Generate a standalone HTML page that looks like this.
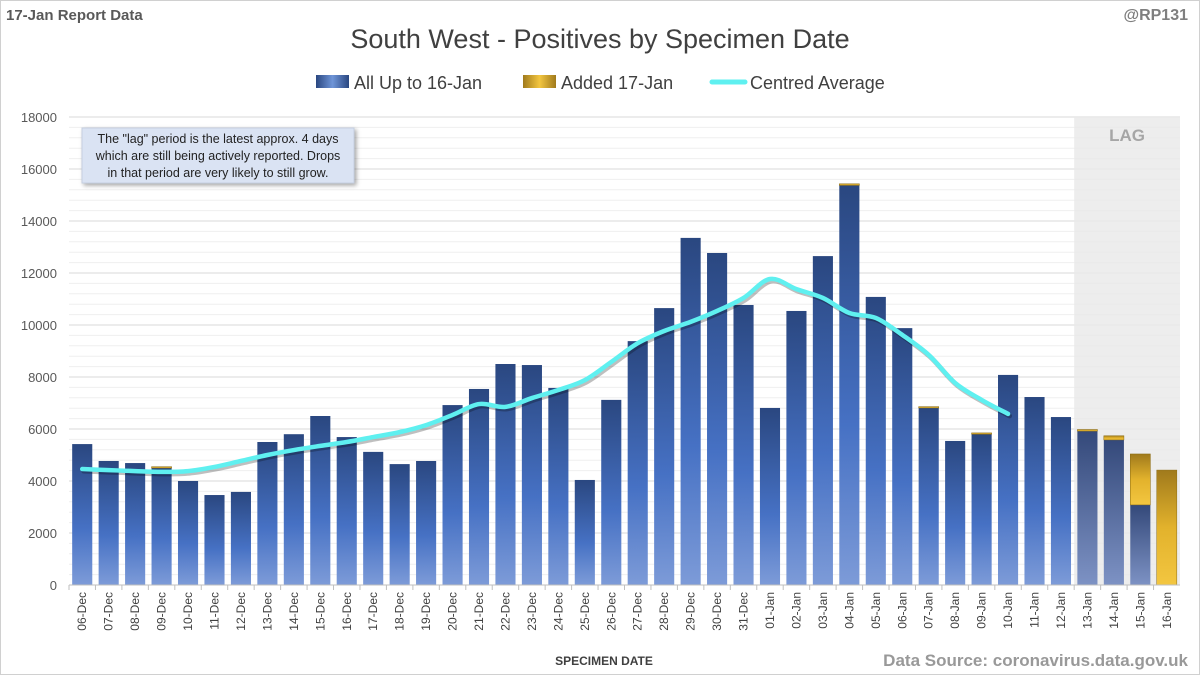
<!DOCTYPE html>
<html><head><meta charset="utf-8"><style>
body{margin:0;background:#fff}
svg{display:block;font-family:"Liberation Sans",sans-serif}
</style></head><body>
<svg id="c" width="1200" height="675" viewBox="0 0 1200 675">
<defs>
<linearGradient id="gb" x1="0" y1="0" x2="0" y2="1"><stop offset="0" stop-color="#2a4780"/><stop offset="0.6" stop-color="#4671c4"/><stop offset="1" stop-color="#7d9bd8"/></linearGradient>
<linearGradient id="gl" x1="0" y1="0" x2="0" y2="1"><stop offset="0" stop-color="#34497a"/><stop offset="1" stop-color="#7d92c4"/></linearGradient>
<linearGradient id="gy" x1="0" y1="0" x2="0" y2="1"><stop offset="0" stop-color="#a07a1c"/><stop offset="0.5" stop-color="#e2b22c"/><stop offset="1" stop-color="#f3c640"/></linearGradient>
<linearGradient id="lg" x1="0" y1="0" x2="1" y2="0"><stop offset="0" stop-color="#2a4780"/><stop offset="0.5" stop-color="#6f95d8"/><stop offset="1" stop-color="#2a4780"/></linearGradient>
<linearGradient id="ly" x1="0" y1="0" x2="1" y2="0"><stop offset="0" stop-color="#a07a1c"/><stop offset="0.5" stop-color="#f3c640"/><stop offset="1" stop-color="#a07a1c"/></linearGradient>
</defs>
<rect x="0.5" y="0.5" width="1199" height="674" fill="#fff" stroke="#d0d0d0"/>
<text x="6" y="20" font-size="15" font-weight="bold" fill="#595959">17-Jan Report Data</text>
<text x="1188" y="20" font-size="16" font-weight="bold" fill="#7f7f7f" text-anchor="end">@RP131</text>
<text x="600" y="48" font-size="27" fill="#404040" text-anchor="middle">South West - Positives by Specimen Date</text>
<g>
<rect x="316" y="75" width="33" height="13" fill="url(#lg)"/>
<text x="354" y="89" font-size="18" fill="#404040">All Up to 16-Jan</text>
<rect x="523" y="75" width="33" height="13" fill="url(#ly)"/>
<text x="561" y="89" font-size="18" fill="#404040">Added 17-Jan</text>
<line x1="712" y1="82" x2="745" y2="82" stroke="#5ff0f0" stroke-width="5" stroke-linecap="round"/>
<text x="750" y="89" font-size="18" fill="#404040">Centred Average</text>
</g>
<g id="grid"></g><g id="lag"></g><g id="bars"></g><g id="line"></g><g id="axes"></g>
<g>
<rect x="82" y="128" width="272" height="55" fill="#dae3f3" stroke="#c5cfe0" style="filter:drop-shadow(2px 2px 2px rgba(0,0,0,.35))"/>
<text font-size="12.5" fill="#222" text-anchor="middle"><tspan x="218" y="143">The "lag" period is the latest approx. 4 days</tspan><tspan x="218" y="160">which are still being actively reported.  Drops</tspan><tspan x="218" y="177">in that period are very likely to still grow.</tspan></text>
</g>
<text x="604" y="665" font-size="12" font-weight="bold" fill="#404040" text-anchor="middle">SPECIMEN DATE</text>
<text x="1188" y="666" font-size="17" font-weight="bold" fill="#999" text-anchor="end">Data Source: coronavirus.data.gov.uk</text>
</svg>
<script>
const categories=["06-Dec","07-Dec","08-Dec","09-Dec","10-Dec","11-Dec","12-Dec","13-Dec","14-Dec","15-Dec","16-Dec","17-Dec","18-Dec","19-Dec","20-Dec","21-Dec","22-Dec","23-Dec","24-Dec","25-Dec","26-Dec","27-Dec","28-Dec","29-Dec","30-Dec","31-Dec","01-Jan","02-Jan","03-Jan","04-Jan","05-Jan","06-Jan","07-Jan","08-Jan","09-Jan","10-Jan","11-Jan","12-Jan","13-Jan","14-Jan","15-Jan","16-Jan"];
const baseValues=[5420,4770,4690,4500,4000,3460,3580,5500,5800,6500,5690,5120,4650,4770,6920,7540,8500,8460,7580,4040,7120,9380,10650,13350,12770,10770,6810,10540,12650,15370,11080,9880,6810,5540,5800,8080,7230,6460,5920,5580,3080,0];
const addedValues=[0,0,0,50,0,0,0,0,0,0,0,0,0,0,0,0,0,0,0,0,0,0,0,0,0,0,0,0,0,60,0,0,50,0,50,0,0,0,60,160,1960,4420];
const avgValues=[4460,4420,4380,4350,4380,4540,4770,5000,5190,5350,5500,5690,5880,6150,6540,6960,6850,7190,7500,7880,8580,9300,9770,10120,10540,11040,11770,11380,11040,10460,10270,9620,8850,7770,7120,6580];
const yTicks=[0,2000,4000,6000,8000,10000,12000,14000,16000,18000];
const lagStart=38;
const NS="http://www.w3.org/2000/svg";
const L=69,R=1180,T=117,B=585,yMax=18000;
const band=(R-L)/categories.length;
const x=i=>L+band*(i+0.5);
const y=v=>B-(v/yMax)*(B-T);
function mk(parent,tag,attrs){const e=document.createElementNS(NS,tag);for(const k in attrs)e.setAttribute(k,attrs[k]);document.getElementById(parent).appendChild(e);return e;}
for(let v=0;v<=yMax;v+=400){
 const g=mk('grid','line',{x1:L,x2:R,y1:y(v),y2:y(v),stroke:v%2000===0?'#d9d9d9':'#efefef','stroke-width':1});
 
 
}
const lr=mk('lag','rect',{x:L+band*lagStart,y:T,width:R-(L+band*lagStart),height:B-T,fill:'#e8e8e8',opacity:0.8});


const lt=mk('lag','text',{x:(L+band*lagStart+R)/2,y:T+24,'font-size':17,'font-weight':'bold',fill:'#a6a6a6','text-anchor':'middle'});
lt.textContent='LAG';


const bw=band*0.76;
categories.forEach((c,i)=>{
 const b=baseValues[i],a=addedValues[i];
 if(b>0){const r=mk('bars','rect',{x:x(i)-bw/2,y:y(b),width:bw,height:B-y(b),fill:i>=lagStart?'url(#gl)':'url(#gb)'});
 
 }
 if(a>0){const r=mk('bars','rect',{x:x(i)-bw/2,y:y(b+a),width:bw,height:y(b)-y(b+a),fill:'url(#gy)',stroke:'#8a6a10','stroke-width':0.5});
 
 }
 const tx=mk('axes','text',{x:0,y:0,'font-size':12,fill:'#404040','text-anchor':'end',transform:`translate(${x(i)+4},${B+7}) rotate(-90)`});
 tx.textContent=c;
 
 
 const tk=mk('axes','line',{x1:L+band*i,x2:L+band*i,y1:B,y2:B+5,stroke:'#bfbfbf'});
 
 
});
const ax=mk('axes','line',{x1:L,x2:R,y1:B,y2:B,stroke:'#bfbfbf'});


yTicks.forEach(v=>{
 const t=mk('axes','text',{x:57,y:y(v)+5,'font-size':13,fill:'#595959','text-anchor':'end'});
 t.textContent=v;
 
 
});
const pts=avgValues.map((v,i)=>[x(i),y(v)]);
let d='M'+pts[0][0]+','+pts[0][1];
for(let i=0;i<pts.length-1;i++){const p0=pts[i-1]||pts[i],p1=pts[i],p2=pts[i+1],p3=pts[i+2]||p2;
 d+=` C${p1[0]+(p2[0]-p0[0])/6},${p1[1]+(p2[1]-p0[1])/6} ${p2[0]-(p3[0]-p1[0])/6},${p2[1]-(p3[1]-p1[1])/6} ${p2[0]},${p2[1]}`;}
const sh=mk('line','path',{d:d,fill:'none',stroke:'rgba(0,0,0,0.25)','stroke-width':5,transform:'translate(1.5,2)','stroke-linecap':'round'});


const ln=mk('line','path',{d:d,fill:'none',stroke:'#5ff0f0','stroke-width':4.5,'stroke-linecap':'round'});


</script>
</body></html>
